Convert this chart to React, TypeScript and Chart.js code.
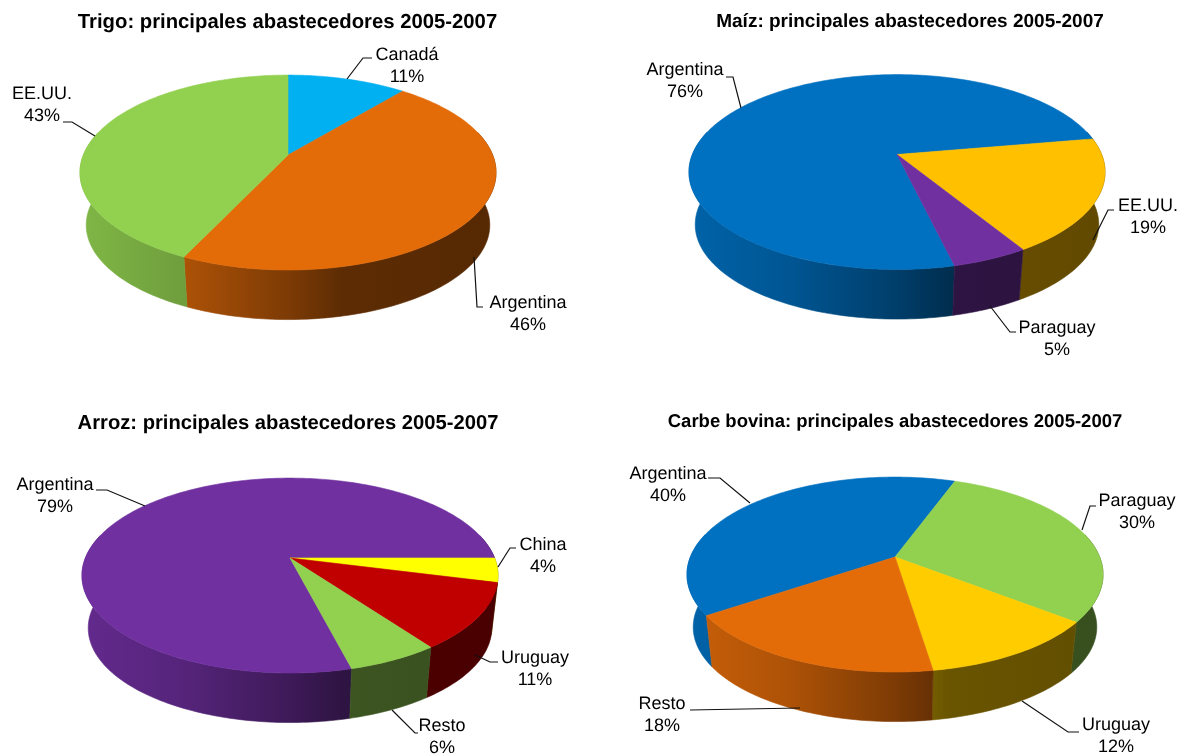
import React, { useEffect, useRef } from "react";
import { Chart, registerables } from "chart.js";

Chart.register(...registerables);

// ---- data ----
const trigoLabels = ["Canadá", "Argentina", "EE.UU."];
const trigoValues = [11, 46, 43];
const maizLabels = ["Argentina", "EE.UU.", "Paraguay"];
const maizValues = [76, 19, 5];
const arrozLabels = ["Argentina", "China", "Uruguay", "Resto"];
const arrozValues = [79, 4, 11, 6];
const carneLabels = ["Argentina", "Paraguay", "Uruguay", "Resto"];
const carneValues = [40, 30, 12, 18];

const BLUE = "#0070C0";
const CYAN = "#00B0F0";
const ORANGE = "#E36C09";
const GREEN = "#92D050";
const AMBER = "#FFC000";
const GOLD = "#FFCC00";
const PURPLE = "#7030A0";
const RED = "#C00000";
const YELLOW = "#FFFF00";

// ---- layout (absolute page pixels) ----
type Callout = { cx: number; y: number; line: number[][] };
type PanelCfg = {
  title: string; titleSize: number; labels: string[]; values: number[]; colors: string[];
  rotation: number; x0: number; y0: number; w: number; h: number; apexX: number; apexY: number;
  titleX: number; titleY: number; callouts: Callout[];
};

const panels: PanelCfg[] = [
  {
    title: "Trigo: principales abastecedores 2005-2007", titleSize: 20.3, labels: trigoLabels, values: trigoValues,
    colors: [CYAN, ORANGE, GREEN], rotation: 0, x0: 0, y0: 0, w: 590, h: 385, apexX: 288, apexY: 155, titleX: 287.5, titleY: 22,
    callouts: [
      { cx: 407, y: 54, line: [[347, 79], [363, 58], [372, 58]] },
      { cx: 528, y: 302, line: [[474, 257], [477, 307], [483, 307]] },
      { cx: 42, y: 93, line: [[95, 136], [72, 122], [63, 122]] },
    ],
  },
  {
    title: "Maíz: principales abastecedores 2005-2007", titleSize: 19, labels: maizLabels, values: maizValues,
    colors: [BLUE, AMBER, PURPLE], rotation: 166.6, x0: 605, y0: 0, w: 580, h: 385, apexX: 897, apexY: 154.5, titleX: 910, titleY: 22,
    callouts: [
      { cx: 685, y: 69, line: [[726, 77], [733, 77], [741, 108]] },
      { cx: 1148, y: 205, line: [[1093, 240], [1108, 210], [1114, 210]] },
      { cx: 1057, y: 327, line: [[990, 306], [1010, 332], [1016, 332]] },
    ],
  },
  {
    title: "Arroz: principales abastecedores 2005-2007", titleSize: 20.2, labels: arrozLabels, values: arrozValues,
    colors: [PURPLE, YELLOW, RED, GREEN], rotation: 165.6, x0: 0, y0: 385, w: 590, h: 371, apexX: 290, apexY: 558, titleX: 288, titleY: 423,
    callouts: [
      { cx: 55, y: 484, line: [[96, 490], [107, 490], [145, 506]] },
      { cx: 543, y: 544, line: [[498, 567], [510, 548], [516, 548]] },
      { cx: 535, y: 657, line: [[475, 655], [490, 662], [498, 662]] },
      { cx: 442, y: 725, line: [[392, 710], [415, 733], [418, 733]] },
    ],
  },
  {
    title: "Carbe bovina: principales abastecedores 2005-2007", titleSize: 18.5, labels: carneLabels, values: carneValues,
    colors: [BLUE, GREEN, GOLD, ORANGE], rotation: 236, x0: 605, y0: 385, w: 580, h: 371, apexX: 895, apexY: 557, titleX: 895, titleY: 422,
    callouts: [
      { cx: 668, y: 473, line: [[708, 478], [720, 478], [750, 503]] },
      { cx: 1137, y: 500, line: [[1082, 530], [1090, 506], [1096, 506]] },
      { cx: 1116, y: 724, line: [[1022, 701], [1068, 732], [1079, 732]] },
      { cx: 662, y: 703, line: [[800, 708], [690, 710]] },
    ],
  },
];

// ---- projection of the pie ----
const RADIUS = 94.3;
const STRETCH = 2.17;
const PERSP = 0.18;
const WALL = 53;
const WALL_SCALE = 0.97;
const LABEL_FONT = '18px "Liberation Sans", Arial, sans-serif';
const LINE_H = 22;
const TITLE_HALF_WIDTH = 280;

function hexRgb(hex: string) {
  const n = parseInt(hex.slice(1), 16);
  return [(n >> 16) & 255, (n >> 8) & 255, n & 255];
}
function shade(hex: string, f: number) {
  const [r, g, b] = hexRgb(hex);
  return `rgb(${Math.round(r * f)},${Math.round(g * f)},${Math.round(b * f)})`;
}

const WALL_STOPS = [[0, 0.88], [0.25, 0.76], [0.5, 0.55], [0.63, 0.41], [1, 0.38]];

const pie3d = {
  id: "pie3d",
  afterLayout(chart: any) {
    const cfg: PanelCfg = chart.options.plugins.pie3d.panel;
    const tb = chart.titleBlock;
    tb.left = cfg.titleX - cfg.x0 - TITLE_HALF_WIDTH;
    tb.right = cfg.titleX - cfg.x0 + TITLE_HALF_WIDTH;
  },
  beforeDraw(chart: any) {
    (chart.ctx as any).textRendering = "geometricPrecision";
  },
  beforeDatasetsDraw(chart: any) {
    const ctx: CanvasRenderingContext2D = chart.ctx;
    const arcs: any[] = chart.getDatasetMeta(0).data;
    const cfg: PanelCfg = chart.options.plugins.pie3d.panel;
    const R = arcs[0].outerRadius;
    const cx = arcs[0].x;
    const cy = arcs[0].y;
    const project = (a: number) => {
      const x = Math.cos(a), y = Math.sin(a);
      const d = 1 - PERSP * y;
      return [(R * STRETCH * x) / d, (R * y) / d];
    };
    const steps = (a0: number, a1: number) => Math.max(2, Math.ceil(Math.abs(a1 - a0) / 0.02));
    const rx = R * STRETCH + 4;

    // side walls
    const lo = -0.25;
    const hi = Math.PI + 0.25;
    arcs.forEach((arc) => {
      const color = arc.options.backgroundColor;
      const g = ctx.createLinearGradient(cx - rx, 0, cx + rx, 0);
      WALL_STOPS.forEach(([s, f]) => g.addColorStop(s, shade(color, f)));
      for (let k = -1; k <= 1; k++) {
        const a0 = Math.max(arc.startAngle + k * 2 * Math.PI, lo);
        const a1 = Math.min(arc.endAngle + k * 2 * Math.PI, hi);
        if (a1 <= a0) continue;
        const n = steps(a0, a1);
        ctx.beginPath();
        for (let j = 0; j <= n; j++) {
          const [px, py] = project(a0 + ((a1 - a0) * j) / n);
          ctx.lineTo(cx + px, cy + py);
        }
        for (let j = n; j >= 0; j--) {
          const [px, py] = project(a0 + ((a1 - a0) * j) / n);
          ctx.lineTo(cx + px * WALL_SCALE, cy + py * WALL_SCALE + WALL);
        }
        ctx.closePath();
        ctx.fillStyle = g;
        ctx.strokeStyle = g;
        ctx.lineWidth = 0.6;
        ctx.fill();
        ctx.stroke();
      }
    });

    // top faces
    arcs.forEach((arc) => {
      const color = arc.options.backgroundColor;
      const n = steps(arc.startAngle, arc.endAngle);
      ctx.beginPath();
      ctx.moveTo(cx, cy);
      for (let j = 0; j <= n; j++) {
        const [px, py] = project(arc.startAngle + ((arc.endAngle - arc.startAngle) * j) / n);
        ctx.lineTo(cx + px, cy + py);
      }
      ctx.closePath();
      ctx.fillStyle = color;
      ctx.strokeStyle = color;
      ctx.lineWidth = 0.6;
      ctx.fill();
      ctx.stroke();
    });

    // callouts
    ctx.save();
    ctx.font = LABEL_FONT;
    ctx.fillStyle = "#000";
    ctx.strokeStyle = "#111";
    ctx.lineWidth = 1.2;
    ctx.textAlign = "center";
    ctx.textBaseline = "middle";
    cfg.callouts.forEach((c, i) => {
      const ox = cfg.x0, oy = cfg.y0;
      ctx.beginPath();
      c.line.forEach(([x, y], j) => (j ? ctx.lineTo(x - ox, y - oy) : ctx.moveTo(x - ox, y - oy)));
      ctx.stroke();
      ctx.fillText(cfg.labels[i], c.cx - ox, c.y - oy + 1);
      ctx.fillText(`${cfg.values[i]}%`, c.cx - ox, c.y - oy + 1 + LINE_H);
    });
    ctx.restore();
    return false;
  },
};

function Panel({ cfg }: { cfg: PanelCfg }) {
  const ref = useRef<HTMLCanvasElement>(null);
  useEffect(() => {
    const lineH = cfg.titleSize * 1.2;
    const padTop = cfg.titleY - cfg.y0 - lineH / 2;
    const areaTop = cfg.apexY - cfg.y0 - RADIUS;
    const areaBottom = cfg.apexY - cfg.y0 + RADIUS;
    const half = 200;
    const localX = cfg.apexX - cfg.x0;
    const chart = new Chart(ref.current as HTMLCanvasElement, {
      type: "pie",
      data: {
        labels: cfg.labels,
        datasets: [{ data: cfg.values, backgroundColor: cfg.colors, borderWidth: 0 }],
      },
      options: {
        responsive: false,
        animation: false,
        rotation: cfg.rotation,
        events: [],
        layout: {
          padding: {
            top: 0,
            bottom: cfg.h - areaBottom,
            left: localX - half,
            right: cfg.w - localX - half,
          },
        },
        plugins: {
          legend: { display: false },
          tooltip: { enabled: false },
          title: {
            display: true,
            text: cfg.title,
            color: "#000",
            font: { family: '"Liberation Sans", Arial, sans-serif', size: cfg.titleSize, weight: "bold", lineHeight: 1.2 },
            padding: { top: padTop, bottom: areaTop - padTop - lineH },
          },
          pie3d: { panel: cfg },
        },
      } as any,
      plugins: [pie3d],
    });
    return () => chart.destroy();
  }, [cfg]);
  return (
    <canvas
      ref={ref}
      width={cfg.w}
      height={cfg.h}
      style={{ position: "absolute", left: cfg.x0, top: cfg.y0, width: cfg.w, height: cfg.h, display: "block" }}
    />
  );
}

export default function App() {
  return (
    <div style={{ position: "absolute", left: 0, top: 0, width: 1185, height: 756, background: "#fff", overflow: "hidden" }}>
      {panels.map((p) => (
        <Panel key={p.title} cfg={p} />
      ))}
    </div>
  );
}
